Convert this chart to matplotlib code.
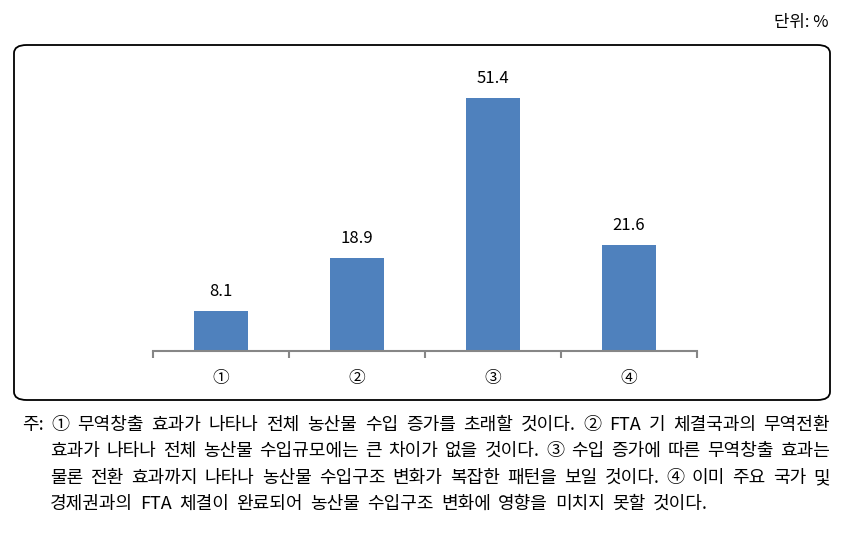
import numpy as np
import matplotlib.pyplot as plt
from matplotlib.patches import FancyBboxPatch

plt.rcParams['font.family'] = ['Noto Sans CJK KR', 'DejaVu Sans']

categories = ['①', '②', '③', '④']
values = [8.1, 18.9, 51.4, 21.6]
unit_text = '단위: %'
note_lines = [
    '주: ① 무역창출 효과가 나타나 전체 농산물 수입 증가를 초래할 것이다. ② FTA 기 체결국과의 무역전환',
    '효과가 나타나 전체 농산물 수입규모에는 큰 차이가 없을 것이다. ③ 수입 증가에 따른 무역창출 효과는',
    '물론 전환 효과까지 나타나 농산물 수입구조 변화가 복잡한 패턴을 보일 것이다. ④ 이미 주요 국가 및',
    '경제권과의 FTA 체결이 완료되어 농산물 수입구조 변화에 영향을 미치지 못할 것이다.',
]

fig = plt.figure(figsize=(8.5, 5.42), dpi=100)
W, H = 850, 542

# rounded frame around chart
box = FancyBboxPatch((14 / W, 1 - 400 / H), (830 - 14) / W, (400 - 45) / H,
                     boxstyle='round,pad=0,rounding_size=0.015',
                     transform=fig.transFigure, fill=False, ec='black', lw=1.3)
fig.patches.append(box)

ax = fig.add_axes([153 / W, 1 - 351 / H, (697 - 153) / W, (351 - 56) / H])
x = np.arange(1, len(values) + 1)
ax.bar(x, values, width=0.4, color='#4F81BD')
for xi, v in zip(x, values):
    ax.text(xi, v + 2.2, f'{v:.1f}', ha='center', va='bottom', fontsize=12)

ax.set_xlim(0.5, len(values) + 0.5)
ax.set_ylim(0, 60)
for s in ['top', 'right', 'left']:
    ax.spines[s].set_visible(False)
ax.spines['bottom'].set_color('#868686')
ax.spines['bottom'].set_linewidth(1.5)
ax.set_yticks([])
ax.set_xticks(x)
ax.set_xticklabels(categories, fontsize=12)
ax.tick_params(axis='x', which='major', length=0, pad=14)
ax.set_xticks(np.arange(0.5, len(values) + 1), minor=True)
ax.tick_params(axis='x', which='minor', length=5, width=1.5, color='#868686')

fig.text(828 / W, 1 - 22 / H, unit_text, ha='right', va='center', fontsize=12)

# justified note text
renderer = fig.canvas.get_renderer()
fs = 13
probe1 = fig.text(0, 0, 'a a', fontsize=fs)
probe2 = fig.text(0, 0, 'aa', fontsize=fs)
space_w = probe1.get_window_extent(renderer).width - probe2.get_window_extent(renderer).width
probe1.remove()
probe2.remove()

ys = [425, 451, 478, 504]
right_px = 830
for i, (line, y) in enumerate(zip(note_lines, ys)):
    left_px = 22 if i == 0 else 50
    words = line.split(' ')
    texts = [fig.text(0, 1 - y / H, w, ha='left', va='center', fontsize=fs) for w in words]
    widths = [t.get_window_extent(renderer).width for t in texts]
    if i < len(note_lines) - 1:
        gap = (right_px - left_px - sum(widths)) / (len(words) - 1)
    else:
        gap = space_w * 1.8
    cur = left_px
    for t, wdt in zip(texts, widths):
        t.set_x(cur / W)
        cur += wdt + gap

fig.savefig('out.png', dpi=100)
